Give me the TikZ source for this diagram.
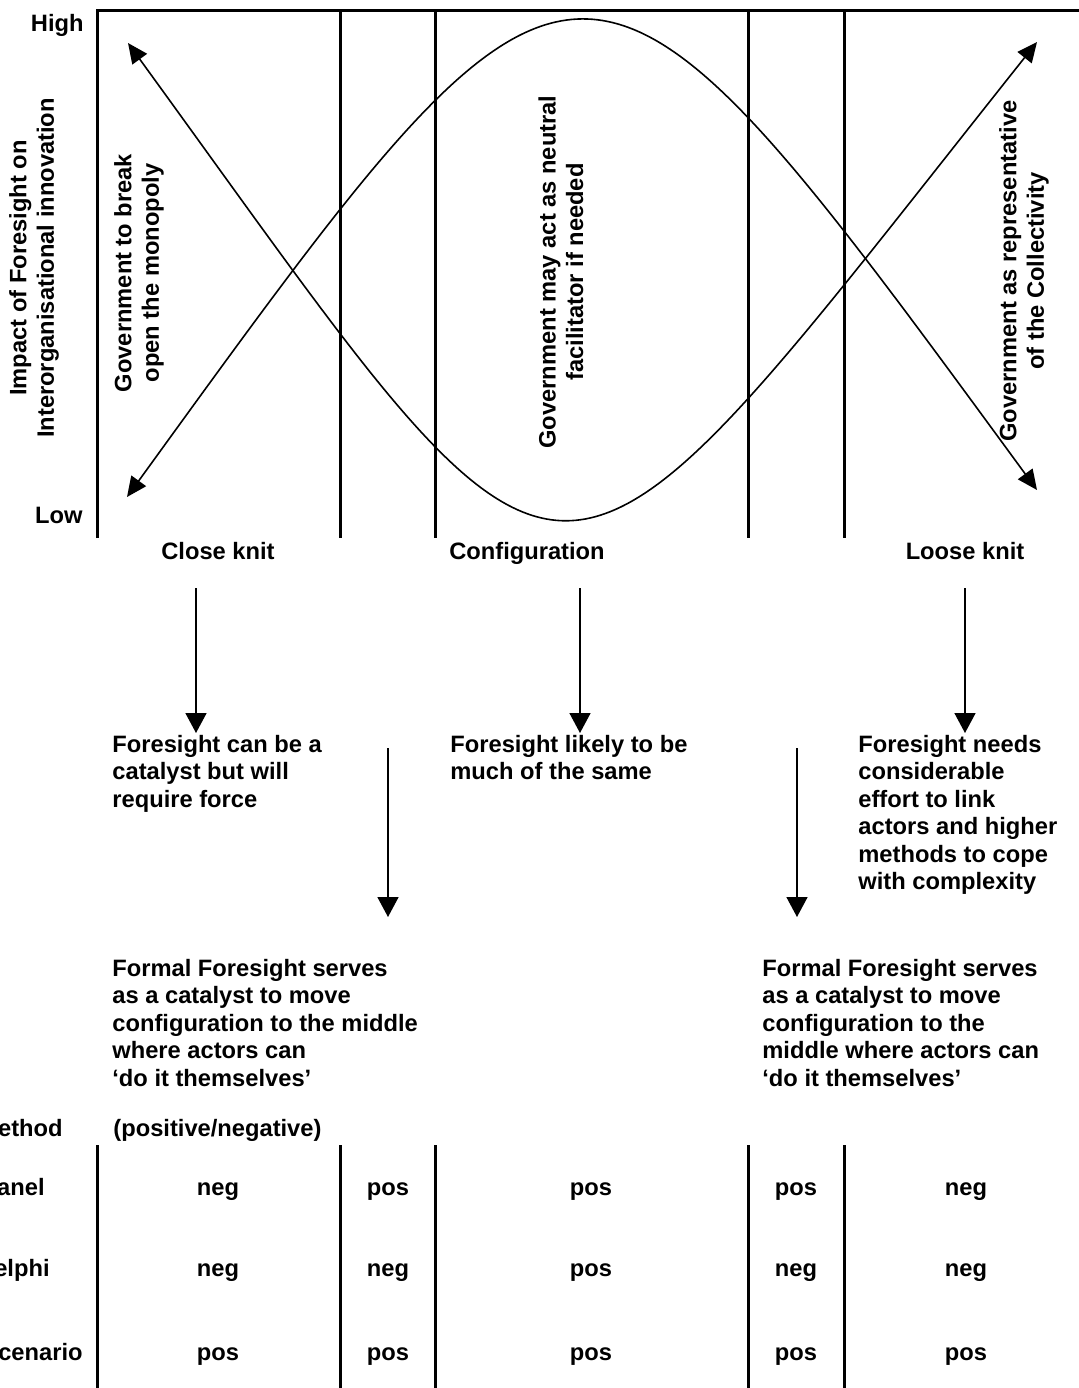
\documentclass[tikz,border=0pt]{standalone}
\usepackage{fontspec}
\setmainfont{Liberation Sans}
\usetikzlibrary{arrows.meta}
\begin{document}
\begin{tikzpicture}[x=0.5pt,y=-0.5pt,
  txt/.style={font=\fontsize{11.85}{13.75}\selectfont\bfseries, inner sep=0pt},
  blk/.style={txt, align=left, anchor=base west},
  lbl/.style={txt, anchor=base},
  rlbl/.style={txt, anchor=base east},
  rot/.style={txt, rotate=90, align=center},
  frame/.style={line width=1.5pt},
  curve/.style={line width=0.8pt, {Triangle[length=10pt,width=9pt]}-{Triangle[length=10pt,width=9pt]}},
  flow/.style={line width=0.8pt, -{Triangle[length=10pt,width=10.5pt]}}
]
\useasboundingbox (0,0) rectangle (1079,1388);

% frame of the chart
\coordinate (ob) at (97,538);
\coordinate (oc) at (97,10);
\coordinate (or) at (1079,10);
\draw[frame, line join=miter] (ob) -- (oc) -- (or);
\foreach \x/\n in {340/a,435/b,748/c,844/d}{
  \coordinate (v\n t) at (\x,10);
  \coordinate (v\n b) at (\x,538);
  \draw[frame] (v\n t) -- (v\n b);
}

% axis labels
\node[rlbl] (high) at (84,31) {High};
\node[rlbl] (low) at (83,523) {Low};
\node[rot] (yax) at (34,268) {Impact of Foresight on\\Interorganisational innovation};

% curves
\coordinate (capL) at (127,497);
\coordinate (capR) at (1037,490);
\draw[curve] (capL) .. controls (584,-134) and (580,-134) .. (capR);
\coordinate (cupL) at (128,43);
\coordinate (cupR) at (1037,42);
\draw[curve] (cupL) .. controls (587,675) and (534,675) .. (cupR);

% rotated government texts
\node[rot] (gov1) at (139,273) {Government to break\\open the monopoly};
\node[rot] (gov2) at (561,272) {Government may act as neutral\\facilitator if needed};
\node[rot] (gov3) at (1024,271) {Government as representative\\of the Collectivity};

% configuration labels
\node[lbl] (close) at (218,559) {Close knit};
\node[lbl] (config) at (527,559) {Configuration};
\node[lbl] (loose) at (965,559) {Loose knit};

% first tier texts (anchor at the baseline of the last line)
\node[blk] (fs1) at (112,807) {Foresight can be a\\catalyst but will\\require force};
\node[blk] (fs2) at (450,779.5) {Foresight likely to be\\much of the same};
\node[blk] (fs3) at (858,889.5) {Foresight needs\\considerable\\effort to link\\actors and higher\\methods to cope\\with complexity};

% second tier texts
\node[blk] (ff1) at (112,1086) {Formal Foresight serves\\as a catalyst to move\\configuration to the middle\\where actors can\\`do it themselves'};
\node[blk] (ff2) at (762,1086) {Formal Foresight serves\\as a catalyst to move\\configuration to the\\middle where actors can\\`do it themselves'};

% flow arrows
\coordinate (f1s) at (196,588); \coordinate (f1e) at (196,733);
\coordinate (f2s) at (580,588); \coordinate (f2e) at (580,733);
\coordinate (f3s) at (965,588); \coordinate (f3e) at (965,733);
\coordinate (f4s) at (388,748); \coordinate (f4e) at (388,917);
\coordinate (f5s) at (797,748); \coordinate (f5e) at (797,917);
\draw[flow] (f1s) -- (f1e);
\draw[flow] (f2s) -- (f2e);
\draw[flow] (f3s) -- (f3e);
\draw[flow] (f4s) -- (f4e);
\draw[flow] (f5s) -- (f5e);

% table
\node[rlbl] (meth) at (63,1136) {ethod};
\node[txt, anchor=base west] (posneg) at (113,1136) {(positive/negative)};
\foreach \x/\n in {97/a,340/b,435/c,748/d,844/e}{
  \coordinate (t\n t) at (\x,1145);
  \coordinate (t\n b) at (\x,1388);
  \draw[frame] (t\n t) -- (t\n b);
}
\node[rlbl] (rpanel) at (45,1195) {anel};
\node[rlbl] (rdelphi) at (50,1276) {elphi};
\node[rlbl] (rscen) at (83,1360) {cenario};

\node[lbl] (p1) at (218,1195) {neg};
\node[lbl] (p2) at (388,1195) {pos};
\node[lbl] (p3) at (591,1195) {pos};
\node[lbl] (p4) at (796,1195) {pos};
\node[lbl] (p5) at (966,1195) {neg};

\node[lbl] (d1) at (218,1276) {neg};
\node[lbl] (d2) at (388,1276) {neg};
\node[lbl] (d3) at (591,1276) {pos};
\node[lbl] (d4) at (796,1276) {neg};
\node[lbl] (d5) at (966,1276) {neg};

\node[lbl] (s1) at (218,1360) {pos};
\node[lbl] (s2) at (388,1360) {pos};
\node[lbl] (s3) at (591,1360) {pos};
\node[lbl] (s4) at (796,1360) {pos};
\node[lbl] (s5) at (966,1360) {pos};
\end{tikzpicture}
\end{document}
